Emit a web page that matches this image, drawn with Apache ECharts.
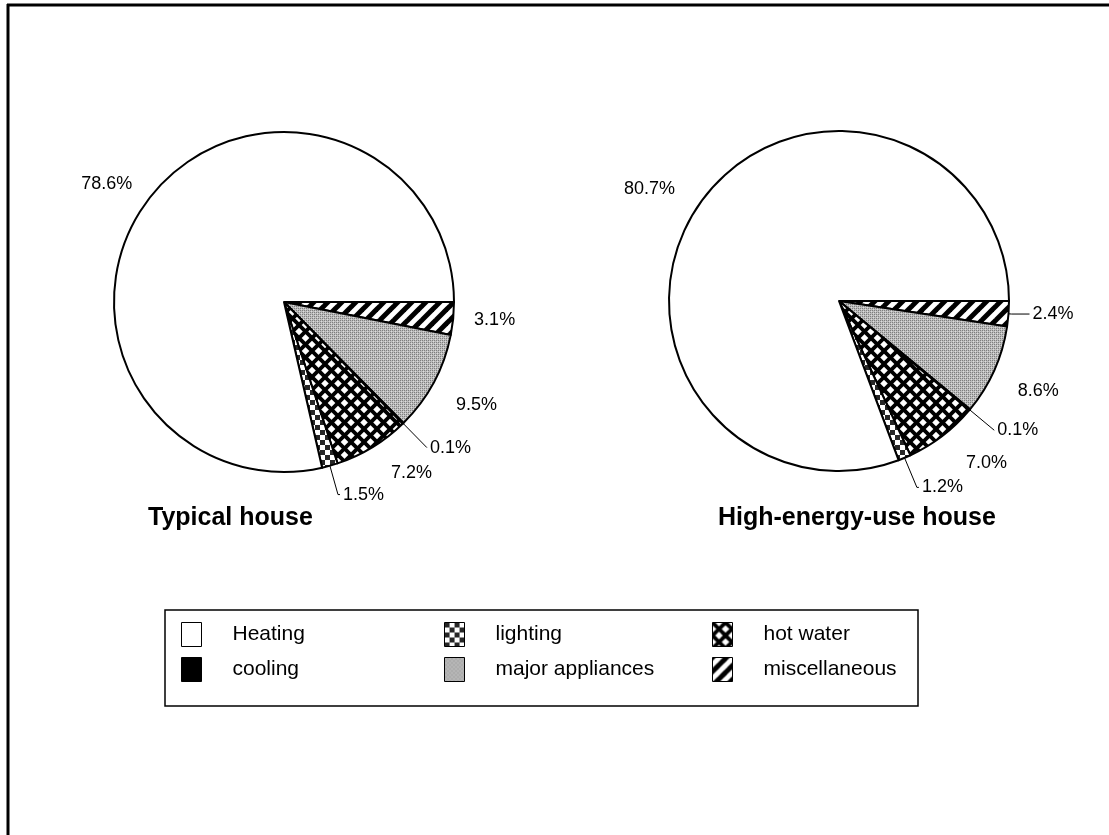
<!DOCTYPE html>
<html>
<head>
<meta charset="utf-8">
<script src="https://cdn.jsdelivr.net/npm/echarts@6/dist/echarts.min.js"></script>
<style>
html,body{margin:0;padding:0;background:#fff;}
#main{width:1109px;height:835px;}
</style>
</head>
<body>
<div id="main"></div>
<script>
// ---- data ----
const categories = ['miscellaneous', 'major appliances', 'cooling', 'hot water', 'lighting', 'Heating'];
const typicalValues = [3.1, 9.5, 0.1, 7.2, 1.5, 78.6];
const highEnergyValues = [2.4, 8.6, 0.1, 7.0, 1.2, 80.7];
const pieTitles = ['Typical house', 'High-energy-use house'];
const legendColumns = [['Heating', 'cooling'], ['lighting', 'major appliances'], ['hot water', 'miscellaneous']];

// ---- patterns ----
function makeCanvas(w, h, draw) {
  const c = document.createElement('canvas');
  c.width = w; c.height = h;
  const ctx = c.getContext('2d');
  ctx.fillStyle = '#fff'; ctx.fillRect(0, 0, w, h);
  draw(ctx, w, h);
  return c;
}
const hatchCanvas = makeCanvas(14, 14, (ctx, w, h) => {
  ctx.strokeStyle = '#000'; ctx.lineWidth = 5; ctx.lineCap = 'square';
  for (let k = -1; k <= 1; k++) {
    ctx.beginPath(); ctx.moveTo(k * w, h); ctx.lineTo(k * w + w, 0); ctx.stroke();
  }
});
const crossCanvas = makeCanvas(13, 13, (ctx, w, h) => {
  ctx.strokeStyle = '#000'; ctx.lineWidth = 3.8;
  for (let k = -1; k <= 1; k++) {
    ctx.beginPath(); ctx.moveTo(k * w, h); ctx.lineTo(k * w + w, 0); ctx.stroke();
    ctx.beginPath(); ctx.moveTo(k * w, 0); ctx.lineTo(k * w + w, h); ctx.stroke();
  }
});
const dotCanvas = makeCanvas(4, 4, (ctx) => {
  ctx.fillStyle = '#bdbdbd'; ctx.fillRect(0, 0, 4, 4);
  ctx.fillStyle = '#7e7e7e';
  ctx.fillRect(0, 0, 1, 1); ctx.fillRect(2, 2, 1, 1); ctx.fillRect(2, 0, 1, 1); ctx.fillRect(0, 2, 1, 1);
  ctx.fillStyle = '#dcdcdc';
  ctx.fillRect(1, 1, 1, 1); ctx.fillRect(3, 3, 1, 1);
});
const checkCanvas = makeCanvas(10, 10, (ctx) => {
  ctx.fillStyle = '#262626';
  ctx.fillRect(0, 0, 5, 5); ctx.fillRect(5, 5, 5, 5);
});
const fills = {
  'miscellaneous': { image: hatchCanvas, repeat: 'repeat' },
  'major appliances': { image: dotCanvas, repeat: 'repeat' },
  'cooling': '#000',
  'hot water': { image: crossCanvas, repeat: 'repeat' },
  'lighting': { image: checkCanvas, repeat: 'repeat' },
  'Heating': '#fff'
};

// label line settings per category for each pie (style only)
const lineCfg = [
  {
    'miscellaneous': { show: false, length: 18, length2: 0 },
    'major appliances': { show: false, length: 40, length2: 0 },
    'cooling': { show: true, length: 34, length2: 0 },
    'hot water': { show: false, length: 30, length2: 0 },
    'lighting': { show: true, length: 30, length2: 2 },
    'Heating': { show: false, length: 20, length2: 0 }
  },
  {
    'miscellaneous': { show: true, length: 3, length2: 18 },
    'major appliances': { show: false, length: 40, length2: 0 },
    'cooling': { show: true, length: 32, length2: 0 },
    'hot water': { show: false, length: 34, length2: 0 },
    'lighting': { show: true, length: 32, length2: 2 },
    'Heating': { show: false, length: 26, length2: 0 }
  }
];
// small label nudges (style only) for labels without leader lines
const labelNudge = {
  'major appliances': [-16, 4]
};

const FONT = '"Liberation Sans", Arial, sans-serif';
const centers = [[284, 302], [839, 301]];

function makeSeries(values, idx) {
  return {
    type: 'pie',
    name: pieTitles[idx],
    center: centers[idx],
    radius: 170,
    startAngle: 0,
    clockwise: true,
    avoidLabelOverlap: false,
    animation: false,
    silent: true,
    itemStyle: { borderColor: '#000', borderWidth: 2 },
    label: {
      show: true,
      position: 'outside',
      color: '#000',
      fontSize: 18,
      fontFamily: FONT,
      distanceToLabelLine: 3,
      formatter: p => p.value.toFixed(1) + '%'
    },
    labelLine: { lineStyle: { color: '#000', width: 1 } },
    labelLayout: function (p) {
      const n = labelNudge[categories[p.dataIndex]];
      return n ? { dx: n[0], dy: n[1] } : {};
    },
    emphasis: { disabled: true },
    data: categories.map((c, i) => ({
      name: c,
      value: values[i],
      itemStyle: { color: fills[c] },
      labelLine: Object.assign({ lineStyle: { color: '#000', width: 1 } }, lineCfg[idx][c])
    }))
  };
}

const chart = echarts.init(document.getElementById('main'));
chart.setOption({
  backgroundColor: '#fff',
  title: [
    { text: pieTitles[0], left: 148, top: 506, padding: 0, textStyle: { fontSize: 25, fontWeight: 'bold', color: '#000', fontFamily: FONT } },
    { text: pieTitles[1], left: 718, top: 506, padding: 0, textStyle: { fontSize: 25, fontWeight: 'bold', color: '#000', fontFamily: FONT } }
  ],
  legend: legendColumns.map((col, i) => ({
    data: col,
    orient: 'vertical',
    left: [181, 444, 712][i],
    top: 622,
    padding: 0,
    itemWidth: 20,
    itemHeight: 24,
    itemGap: 10,
    icon: 'rect',
    selectedMode: false,
    itemStyle: { borderColor: '#000', borderWidth: 1 },
    textStyle: { fontSize: 21, color: '#000', fontFamily: FONT, padding: [0, 0, 0, 26] }
  })),
  graphic: [
    { type: 'line', shape: { x1: 7, y1: 5, x2: 1109, y2: 5 }, style: { stroke: '#000', lineWidth: 3 } },
    { type: 'line', shape: { x1: 8, y1: 4, x2: 8, y2: 835 }, style: { stroke: '#000', lineWidth: 3 } },
    { type: 'rect', shape: { x: 165, y: 610, width: 753, height: 96 }, style: { fill: 'none', stroke: '#000', lineWidth: 1.5 } }
  ],
  series: [makeSeries(typicalValues, 0), makeSeries(highEnergyValues, 1)]
});
</script>
</body>
</html>
